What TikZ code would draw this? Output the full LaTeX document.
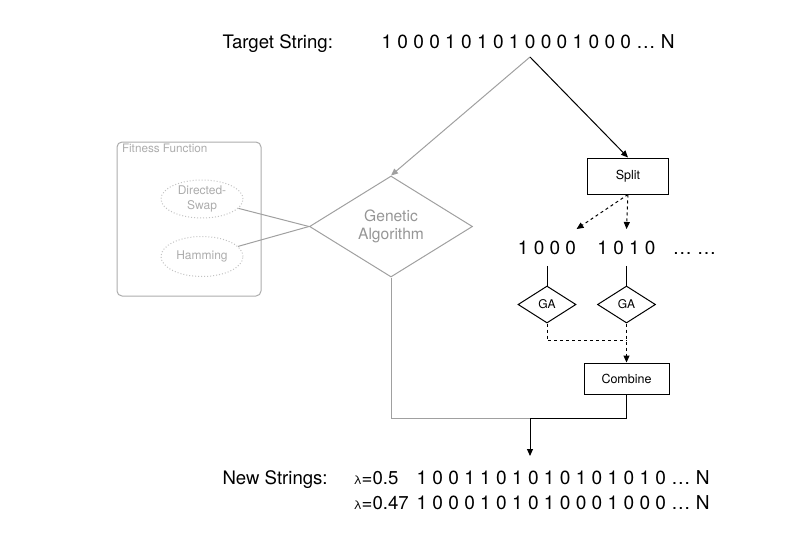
\documentclass[tikz,border=0pt]{standalone}
\usepackage{fontspec}
\setmainfont{TeX Gyre Heros}
\usepackage{xcolor}
\usetikzlibrary{arrows.meta,shapes.geometric}

\definecolor{linegray}{RGB}{160,160,160}
\definecolor{textgray}{RGB}{150,150,150}
\definecolor{lightgray}{RGB}{172,172,172}
\definecolor{dotgray}{RGB}{195,195,195}

\begin{document}
\begin{tikzpicture}[x=1pt,y=1pt,line width=1pt,
    arr/.style={-{Triangle[length=7pt,width=6pt]}},
    grayline/.style={draw=linegray},
    bigtext/.style={inner sep=0,anchor=base west,font=\fontsize{18.6}{22}\selectfont},
    bits/.style={bigtext,font=\fontsize{19.1}{22}\selectfont},
    chunk/.style={inner xsep=0,inner ysep=11,anchor=base,font=\fontsize{19}{22}\selectfont},
    stepbox/.style={draw,rectangle,inner sep=0,font=\fontsize{12.5}{15}\selectfont},
    gasmall/.style={draw,diamond,inner sep=0,minimum width=58,minimum height=37,font=\fontsize{12}{14}\selectfont},
    fitness/.style={ellipse,draw=dotgray,dotted,text=lightgray,inner sep=0,minimum width=82,align=center,font=\fontsize{12}{14.3}\selectfont}]
    \useasboundingbox (0,0) rectangle (806,-536);

    % target string
    \node[bigtext] (targetlbl) at (222,-48) {Target String:};
    \node[bits] (targetbits) at (381,-48) {1 0 0 0 1 0 1 0 1 0 0 0 1 0 0 0 … N};
    \coordinate (fork) at (530,-57);

    % plain GA with its fitness functions
    \node[diamond,draw=linegray,text=textgray,inner sep=0,minimum width=163,minimum height=101,
        align=center,font=\fontsize{15.6}{18.7}\selectfont] (gen) at (391,-226.5) {Genetic\\Algorithm};
    \node[draw=lightgray,rounded corners=5pt,inner sep=0,minimum width=144,minimum height=154] (fitbox) at (189,-219) {};
    \node[inner sep=0,anchor=base west,text=lightgray,font=\fontsize{11.7}{14}\selectfont] (fitlbl) at (121.5,-152) {Fitness Function};
    \node[fitness,minimum height=38] (dswap) at (202,-199) {Directed-\\Swap};
    \node[fitness,minimum height=40] (hamming) at (202,-256.5) {Hamming};
    \draw[grayline] (dswap) -- (gen.west);
    \draw[grayline] (hamming) -- (gen.west);
    \draw[grayline,arr] (fork) -- (gen.north);

    % split into chunks
    \node[stepbox,minimum width=81,minimum height=36] (split) at (628,-176) {Split};
    \draw[arr] (fork) -- (split.north);
    \node[chunk] (chunka) at (547,-254) {1 0 0 0};
    \node[chunk] (chunkb) at (626.5,-254) {1 0 1 0};
    \node[chunk] (chunkc) at (694.5,-254) {… …};
    \draw[dashed,arr] (split.south) -- (chunka.north east);
    \draw[dashed,arr] (split.south) -- (chunkb.north);
    \foreach \n/\x in {a/547,b/626.5} {
        \node[gasmall] (ga\n) at (\x,-304.5) {GA};
        \draw (chunk\n) -- (ga\n);
    }

    % combine
    \node[stepbox,minimum width=85,minimum height=31] (combine) at (626.5,-378.5) {Combine};
    \draw[dashed] (gaa.south) |- ([yshift=-17]gab.south);
    \draw[dashed,arr] (gab.south) -- (combine.north);

    % results
    \coordinate (merge) at (530,-418);
    \coordinate (outarrow) at (530,-456);
    \draw[grayline] (gen.south) |- (merge);
    \draw (combine.south) |- (merge);
    \draw[arr] (merge) -- (outarrow);

    \node[bigtext] (newlbl) at (222,-484) {New Strings:};
    \node[bigtext] (lama) at (353,-484) {{\fontsize{12}{14}\selectfont λ}=0.5};
    \node[bigtext] (lamb) at (353,-509) {{\fontsize{12}{14}\selectfont λ}=0.47};
    \node[bits] (newa) at (416,-484) {1 0 0 1 1 0 1 0 1 0 1 0 1 0 1 0 … N};
    \node[bits] (newb) at (416,-509) {1 0 0 0 1 0 1 0 1 0 0 0 1 0 0 0 … N};
\end{tikzpicture}
\end{document}
